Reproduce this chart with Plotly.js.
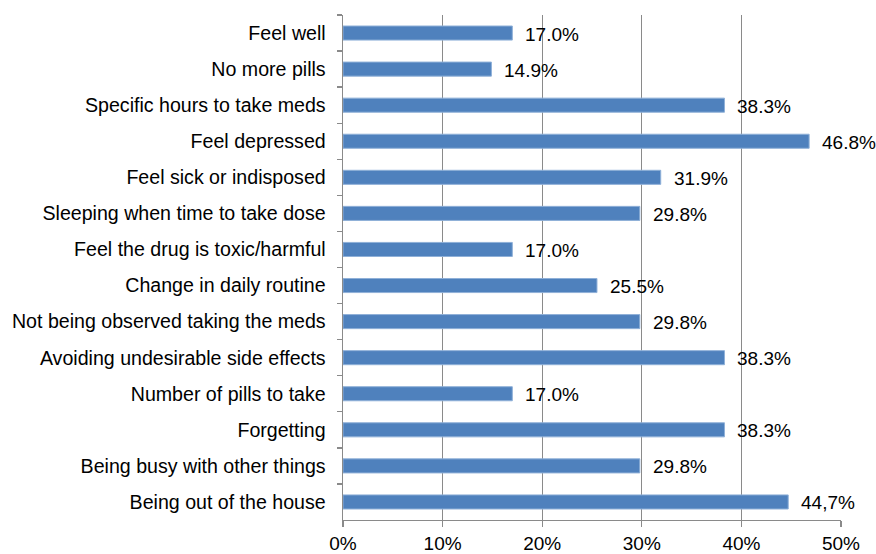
<!DOCTYPE html>
<html>
<head>
<meta charset="utf-8">
<script src="https://cdn.plot.ly/plotly-3.0.1.min.js"></script>
<style>html,body{margin:0;padding:0;background:#fff;}#chart{width:876px;height:554px;}</style>
</head>
<body>
<div id="chart"></div>
<script>
const categories = [
  "Feel well",
  "No more pills",
  "Specific hours to take meds",
  "Feel depressed",
  "Feel sick or indisposed",
  "Sleeping when time to take dose",
  "Feel the drug is toxic/harmful",
  "Change in daily routine",
  "Not being observed taking the meds",
  "Avoiding undesirable side effects",
  "Number of pills to take",
  "Forgetting",
  "Being busy with other things",
  "Being out of the house"
];
const values = [17.0, 14.9, 38.3, 46.8, 31.9, 29.8, 17.0, 25.5, 29.8, 38.3, 17.0, 38.3, 29.8, 44.7];
const valueLabels = ["17.0%", "14.9%", "38.3%", "46.8%", "31.9%", "29.8%", "17.0%", "25.5%", "29.8%", "38.3%", "17.0%", "38.3%", "29.8%", "44,7%"];
const tickVals = [0, 10, 20, 30, 40, 50];
const tickLabels = ["0%", "10%", "20%", "30%", "40%", "50%"];

const font = {family: "Liberation Sans, Arial, Helvetica, sans-serif", size: 19, color: "#000"};
const catFont = {family: "Liberation Sans, Arial, Helvetica, sans-serif", size: 19.6, color: "#000"};

const trace = {
  type: "bar",
  orientation: "h",
  x: values,
  y: categories,
  marker: {color: "#4F81BD", line: {color: "#8fb0d8", width: 1}},
  hoverinfo: "none"
};

const annotations = values.map((v, i) => ({
  x: v, y: categories[i], xref: "x", yref: "y",
  text: valueLabels[i], showarrow: false,
  xanchor: "left", yanchor: "middle", xshift: 11, yshift: -1,
  font: font
}));

const layout = {
  width: 876, height: 554,
  margin: {l: 343, r: 35, t: 15, b: 34, pad: 0},
  paper_bgcolor: "#fff", plot_bgcolor: "#fff",
  font: font,
  showlegend: false,
  bargap: 0.61,
  xaxis: {
    range: [0, 50],
    tickvals: tickVals, ticktext: tickLabels,
    showgrid: true, gridcolor: "#8a8a8a", gridwidth: 1.4,
    showline: true, linecolor: "#8a8a8a", linewidth: 1.4,
    ticks: "outside", ticklen: 6, tickcolor: "#8a8a8a", tickwidth: 1.4,
    zeroline: false, fixedrange: true,
    tickfont: font
  },
  yaxis: {
    type: "category",
    autorange: "reversed",
    showgrid: false, zeroline: false,
    showline: true, linecolor: "#8a8a8a", linewidth: 1.4,
    ticks: "outside", ticklen: 5, tickcolor: "#8a8a8a", tickwidth: 1.4,
    tickson: "boundaries",
    ticklabelstandoff: 12,
    tickfont: catFont
  },
  annotations: annotations
};

Plotly.newPlot("chart", [trace], layout, {displayModeBar: false, staticPlot: true});
</script>
</body>
</html>
